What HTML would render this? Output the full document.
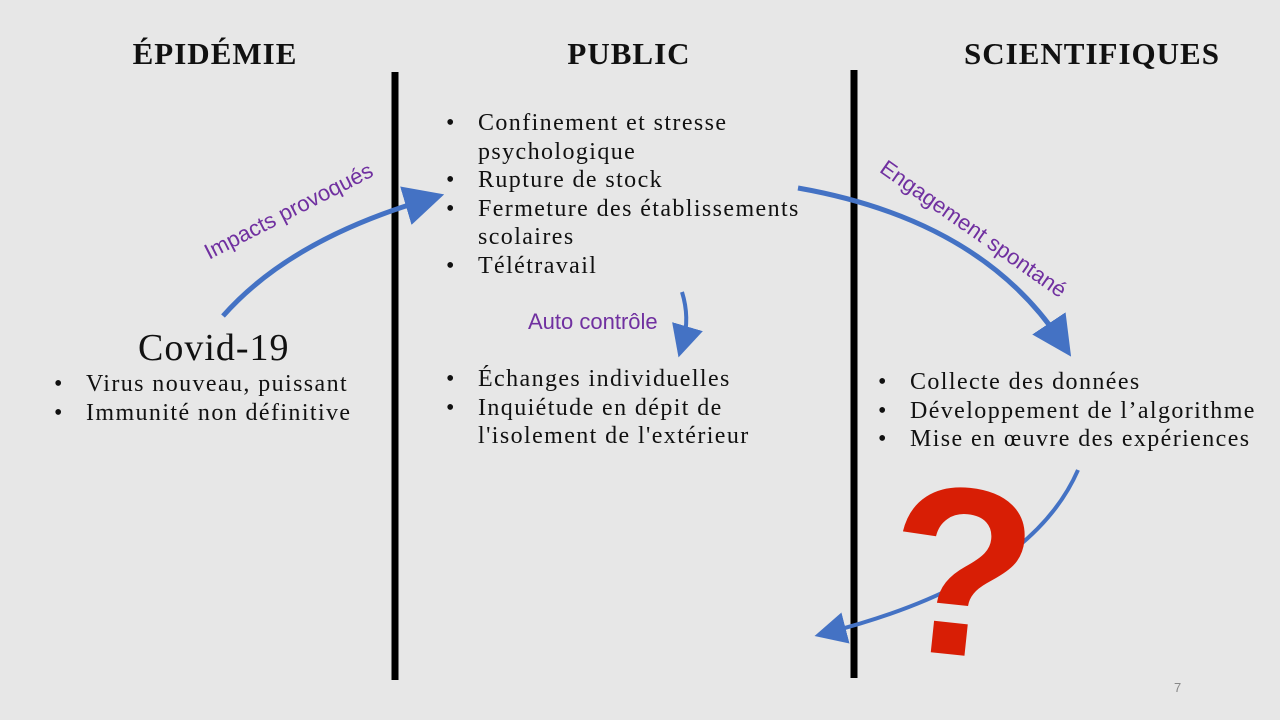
<!DOCTYPE html>
<html><head><meta charset="utf-8">
<style>
body{margin:0;width:1280px;height:720px;background:#e7e7e7;position:relative;overflow:hidden;font-family:"Liberation Serif",serif;color:#111}
.t{position:absolute;font-weight:bold;font-size:31px;letter-spacing:1px;top:36px;text-align:center;color:#111}
.ul{position:absolute;margin:0;padding:0;list-style:none;font-size:24px;letter-spacing:1.4px;line-height:28.5px}
.ul li{position:relative;padding-left:34px}
.ul li::before{content:"•";position:absolute;left:2px;letter-spacing:0}
.p{position:absolute;color:#7030a0;font-family:"Liberation Sans Narrow","Liberation Sans",sans-serif;font-size:22px;white-space:nowrap}
</style></head><body>
<div class="t" style="left:115px;width:200px">ÉPIDÉMIE</div>
<div class="t" style="left:529px;width:200px">PUBLIC</div>
<div class="t" style="left:952px;width:280px">SCIENTIFIQUES</div>

<svg width="1280" height="720" style="position:absolute;left:0;top:0">
<defs><marker id="ah" markerWidth="8" markerHeight="8" refX="4" refY="4" orient="auto" markerUnits="strokeWidth"><path d="M0,0 L8,4 L0,8 Z" fill="#4472c4"/></marker></defs>
<line x1="395" y1="72" x2="395" y2="680" stroke="#000" stroke-width="7"/>
<line x1="854" y1="70" x2="854" y2="678" stroke="#000" stroke-width="7"/>
<path d="M223,316 Q290,240 425,200" fill="none" stroke="#4472c4" stroke-width="5" marker-end="url(#ah)"/>
<path d="M798,188 Q980,220 1060,340" fill="none" stroke="#4472c4" stroke-width="5" marker-end="url(#ah)"/>
<path d="M682,292 Q690,318 683,342" fill="none" stroke="#4472c4" stroke-width="4" marker-end="url(#ah)"/>
<path d="M1078,470 Q1030,580 830,632" fill="none" stroke="#4472c4" stroke-width="4" marker-end="url(#ah)"/>
</svg>

<div class="p" style="left:200px;top:242px;transform:rotate(-27deg);transform-origin:left top">Impacts provoqués</div>
<div class="p" style="left:890px;top:155px;transform:rotate(35deg);transform-origin:left top">Engagement spontané</div>
<div class="p" style="left:528px;top:309px">Auto contrôle</div>

<div style="position:absolute;left:138px;top:326px;font-size:38px;letter-spacing:1px">Covid-19</div>
<ul class="ul" style="left:52px;top:370px">
<li>Virus nouveau, puissant</li><li>Immunité non définitive</li></ul>

<ul class="ul" style="left:444px;top:109px;width:385px">
<li>Confinement et stresse psychologique</li><li>Rupture de stock</li><li>Fermeture des établissements scolaires</li><li>Télétravail</li></ul>
<ul class="ul" style="left:444px;top:365px;width:330px">
<li>Échanges individuelles</li><li>Inquiétude en dépit de l'isolement de l'extérieur</li></ul>

<ul class="ul" style="left:876px;top:368px;width:404px">
<li>Collecte des données</li><li>Développement de l’algorithme</li><li>Mise en œuvre des expériences</li></ul>

<div style="position:absolute;left:888px;top:452px;font-size:240px;font-weight:bold;font-family:'Liberation Sans',sans-serif;color:#d81e05;line-height:1;transform:rotate(6deg)">?</div>
<div style="position:absolute;left:1174px;top:680px;font-size:13px;color:#888;font-family:'Liberation Sans',sans-serif">7</div>
</body></html>
